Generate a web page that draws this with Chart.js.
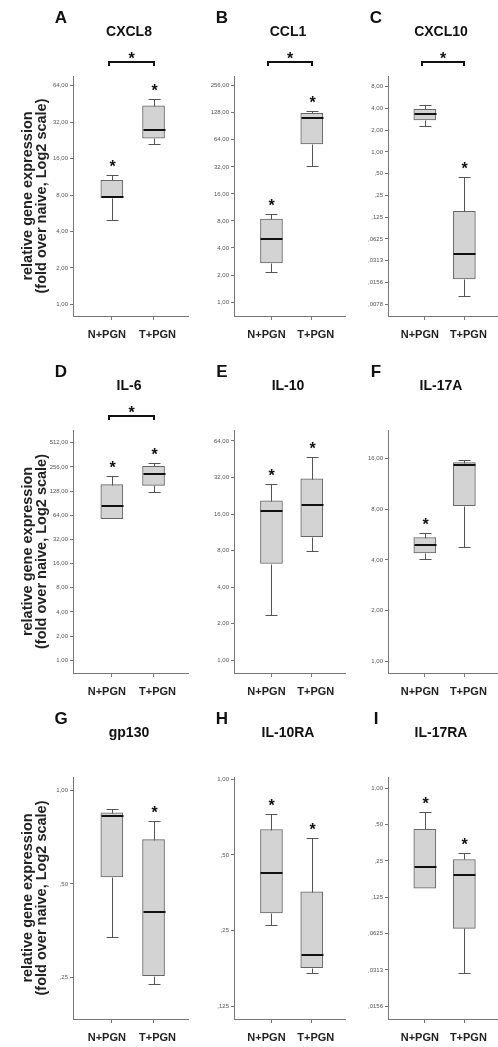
<!DOCTYPE html>
<html>
<head>
<meta charset="utf-8">
<script src="https://cdn.jsdelivr.net/npm/chart.js@4.4.1/dist/chart.umd.min.js"></script>
<style>
  html, body { margin: 0; padding: 0; background: #fff; }
  #fig { position: relative; width: 498px; height: 1047px; overflow: hidden; }
  #fig canvas { position: absolute; }
</style>
</head>
<body>
<div id="fig"></div>
<script>
// groups on the x axis
const categories = ['N+PGN', 'T+PGN'];
const letters = ['A', 'B', 'C', 'D', 'E', 'F', 'G', 'H', 'I'];
const genes = ['CXCL8', 'CCL1', 'CXCL10', 'IL-6', 'IL-10', 'IL-17A', 'gp130', 'IL-10RA', 'IL-17RA'];

// box values: [min, q1, median, q3, max]
const cxcl8N = [4.95, 7.6, 7.7, 10.6, 11.7];
const cxcl8T = [21.0, 23.6, 27.4, 43.8, 49.8];
const ccl1N = [2.18, 2.73, 5.07, 8.4, 9.56];
const ccl1T = [32.5, 57.7, 111, 126, 134];
const cxcl10N = [2.28, 2.78, 3.32, 3.89, 4.43];
const cxcl10T = [0.0102, 0.0175, 0.0385, 0.151, 0.447];
const il6N = [58.1, 58.1, 83.6, 154, 199];
const il6T = [125, 151, 211, 261, 287];
const il10N = [2.34, 6.26, 16.8, 20.6, 28.2];
const il10T = [8.0, 10.4, 19.1, 31.2, 46.8];
const il17aN = [4.06, 4.40, 4.93, 5.43, 5.79];
const il17aT = [4.78, 8.38, 14.7, 15.1, 15.6];
const gp130N = [0.338, 0.527, 0.823, 0.846, 0.869];
const gp130T = [0.239, 0.254, 0.406, 0.694, 0.797];
const il10raN = [0.262, 0.294, 0.423, 0.631, 0.728];
const il10raT = [0.169, 0.178, 0.2005, 0.356, 0.585];
const il17raN = [0.149, 0.149, 0.221, 0.457, 0.637];
const il17raT = [0.0296, 0.069, 0.190, 0.257, 0.290];

const boxes = [
  [cxcl8N, cxcl8T], [ccl1N, ccl1T], [cxcl10N, cxcl10T],
  [il6N, il6T], [il10N, il10T], [il17aN, il17aT],
  [gp130N, gp130T], [il10raN, il10raT], [il17raN, il17raT]
];

// asterisks over each box, and the N vs T bracket
const starN = [1, 1, 0, 1, 1, 1, 0, 1, 1];
const starT = [1, 1, 1, 1, 1, 0, 1, 1, 1];
const bracket = [1, 1, 1, 1, 0, 0, 0, 0, 0];

// y ticks (log2 scale)
const ticksA = [1, 2, 4, 8, 16, 32, 64];
const ticksB = [1, 2, 4, 8, 16, 32, 64, 128, 256];
const ticksC = [0.0078125, 0.015625, 0.03125, 0.0625, 0.125, 0.25, 0.5, 1, 2, 4, 8];
const ticksD = [1, 2, 4, 8, 16, 32, 64, 128, 256, 512];
const ticksE = [1, 2, 4, 8, 16, 32, 64];
const ticksF = [1, 2, 4, 8, 16];
const ticksG = [0.25, 0.5, 1];
const ticksH = [0.125, 0.25, 0.5, 1];
const ticksI = [0.015625, 0.03125, 0.0625, 0.125, 0.25, 0.5, 1];
const yTicks = [ticksA, ticksB, ticksC, ticksD, ticksE, ticksF, ticksG, ticksH, ticksI];
// visible y range, log2 exponents [min, max]
const yRange = [[-0.32, 6.27], [-0.43, 8.36], [-7.54, 3.49], [-0.53, 9.53], [-0.35, 6.30],
                [-0.23, 4.56], [-2.44, 0.14], [-3.17, 0.03], [-6.35, 0.31]];

const yTitle = ['relative gene expression', '(fold over naive, Log2 scale)'];

// layout: plot top/bottom per row, axis left/right + canvas left per column
const rowBox = [[76, 316], [430, 673], [777, 1019]];
const colBox = [[73, 189, 0], [234, 346, 190], [388, 498, 346]];
const TOP_PAD = 76;
const FONT = "'Liberation Sans', Arial, sans-serif";

function fmt(v) {
  if (v >= 1) return v.toFixed(2).replace('.', ',');
  let s = v.toFixed(4).replace(/0+$/, '');
  if (s.length < 4) s = v.toFixed(2);
  return s.slice(1).replace('.', ',');
}

function star(ctx, cx, cy) {
  ctx.font = 'bold 16px ' + FONT;
  ctx.textAlign = 'center';
  ctx.textBaseline = 'alphabetic';
  ctx.fillStyle = '#111';
  ctx.fillText('*', cx, cy + 9.3);
}

const decor = {
  id: 'decor',
  afterDatasetsDraw(chart, args, opts) {
    const p = opts.panel;
    const { ctx, scales: { x, y } } = chart;
    ctx.save();
    const py = v => Math.round(y.getPixelForValue(v)) + 0.5;
    boxes[p].forEach((b, i) => {
      const cx = Math.round(x.getPixelForValue(i + 1)) + 0.5;
      const cap = 6;
      ctx.strokeStyle = '#555';
      ctx.lineWidth = 1;
      ctx.beginPath();
      if (b[4] > b[3]) {
        ctx.moveTo(cx, py(b[3])); ctx.lineTo(cx, py(b[4]));
        ctx.moveTo(cx - cap, py(b[4])); ctx.lineTo(cx + cap, py(b[4]));
      }
      if (b[0] < b[1]) {
        ctx.moveTo(cx, py(b[1])); ctx.lineTo(cx, py(b[0]));
        ctx.moveTo(cx - cap, py(b[0])); ctx.lineTo(cx + cap, py(b[0]));
      }
      ctx.stroke();
      // median
      ctx.strokeStyle = '#111';
      ctx.lineWidth = 2;
      const my = Math.round(y.getPixelForValue(b[2]));
      ctx.beginPath();
      ctx.moveTo(cx - 11, my); ctx.lineTo(cx + 11, my);
      ctx.stroke();
      const flag = i === 0 ? starN[p] : starT[p];
      if (flag) star(ctx, cx, y.getPixelForValue(b[4]) - 12.5);
    });
    ctx.restore();
  },
  afterDraw(chart, args, opts) {
    const p = opts.panel;
    const { ctx, chartArea: a, scales: { x } } = chart;
    ctx.save();
    ctx.fillStyle = '#111';
    ctx.textAlign = 'center';
    ctx.textBaseline = 'middle';
    ctx.font = 'bold 17px ' + FONT;
    ctx.fillText(letters[p], a.left - 12, a.top - 58);
    ctx.font = 'bold 14px ' + FONT;
    ctx.fillText(genes[p], (a.left + a.right) / 2 - 2, a.top - 44);
    // group labels, spread a little wider than the tick marks
    ctx.font = 'bold 11px ' + FONT;
    ctx.fillStyle = '#222';
    ctx.fillText(categories[0], x.getPixelForValue(1) - 5, a.bottom + 18.5);
    ctx.fillText(categories[1], x.getPixelForValue(2) + 4, a.bottom + 18.5);
    if (bracket[p]) {
      const x1 = Math.round(x.getPixelForValue(1)) - 3;
      const x2 = Math.round(x.getPixelForValue(2));
      const yb = a.top - 14;
      ctx.strokeStyle = '#111';
      ctx.lineWidth = 2;
      ctx.beginPath();
      ctx.moveTo(x1, yb + 4); ctx.lineTo(x1, yb); ctx.lineTo(x2, yb); ctx.lineTo(x2, yb + 4);
      ctx.stroke();
      star(ctx, (x1 + x2) / 2, yb - 7);
    }
    ctx.restore();
  }
};

const fig = document.getElementById('fig');

genes.forEach((g, p) => {
  const r = Math.floor(p / 3), c = p % 3;
  const top = rowBox[r][0] - TOP_PAD;
  const canvas = document.createElement('canvas');
  canvas.width = colBox[c][1] - colBox[c][2];
  canvas.height = rowBox[r][1] + 28 - top;
  canvas.style.left = colBox[c][2] + 'px';
  canvas.style.top = top + 'px';
  fig.appendChild(canvas);

  new Chart(canvas.getContext('2d'), {
    type: 'bar',
    data: {
      datasets: [{
        data: boxes[p].map((b, i) => ({ x: i + 1, y: [b[1], b[3]] })),
        backgroundColor: '#d3d3d3',
        borderColor: '#666',
        borderWidth: 1,
        borderSkipped: false,
        barThickness: 22
      }]
    },
    options: {
      responsive: false,
      animation: false,
      devicePixelRatio: 1,
      layout: { padding: { top: TOP_PAD, left: 0, right: 0, bottom: 0 } },
      plugins: { legend: { display: false }, tooltip: { enabled: false }, decor: { panel: p } },
      scales: {
        x: {
          type: 'linear', min: 0.07, max: 2.85, offset: false,
          afterBuildTicks: s => { s.ticks = categories.map((cat, i) => ({ value: i + 1 })); },
          afterFit: s => { s.height = 28; },
          ticks: { display: false },
          grid: { offset: false, drawOnChartArea: false, tickLength: 4, color: '#777' },
          border: { color: '#777', width: 1 }
        },
        y: {
          type: 'logarithmic',
          min: Math.pow(2, yRange[p][0]),
          max: Math.pow(2, yRange[p][1]),
          afterBuildTicks: s => { s.ticks = yTicks[p].map(v => ({ value: v })); },
          afterFit: s => { s.width = colBox[c][0] - colBox[c][2]; },
          ticks: { callback: v => fmt(v), font: { family: FONT, size: 6 }, color: '#555', padding: 2, autoSkip: false },
          grid: { drawOnChartArea: false, tickLength: 3, color: '#777' },
          border: { color: '#777', width: 1 },
          title: {
            display: c === 0,
            text: yTitle,
            color: '#222',
            font: { family: FONT, size: 14.5, weight: 'bold', lineHeight: 0.97 },
            padding: { top: 21, bottom: 0 }
          }
        }
      }
    },
    plugins: [decor]
  });
});
</script>
</body>
</html>
